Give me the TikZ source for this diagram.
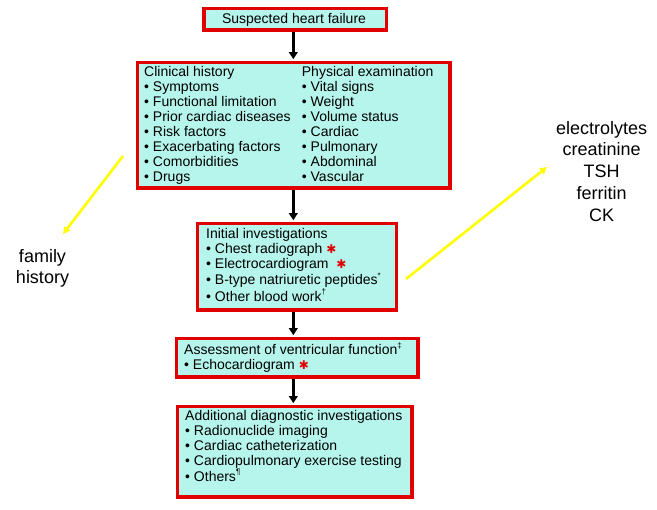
\documentclass[tikz,border=0pt]{standalone}
\usepackage{fontspec}
\setmainfont{Liberation Sans}
\newfontfamily\djv{DejaVu Sans}
\usetikzlibrary{arrows.meta}
\definecolor{boxfill}{RGB}{182,245,236}
\definecolor{boxred}{RGB}{225,0,0}
\definecolor{hlyellow}{RGB}{255,255,0}
\newcommand{\redstar}{\textcolor{boxred}{\djv\fontsize{12}{12}\selectfont ✱}}
\newcommand{\sml}[1]{\raisebox{0.9ex}{\fontsize{8}{8}\selectfont #1}}
\begin{document}
\begin{tikzpicture}[x=1pt,y=-1pt,
  box/.style={draw=boxred,fill=boxfill,line width=3.3pt,inner sep=0pt,anchor=north west},
  txt/.style={inner sep=0pt,align=left,anchor=north west,font=\fontsize{14}{15}\selectfont},
  arr/.style={line width=2.6pt,-{Triangle[length=7pt,width=8.5pt]},shorten >=1.4pt},
  yarr/.style={draw=hlyellow,line width=2.6pt,-{Triangle[length=7pt,width=7pt]}},
  side/.style={inner sep=0pt,align=center,font=\fontsize{18}{21.7}\selectfont}]
\useasboundingbox (0,0) rectangle (657,510);
% boxes
\node[box,minimum width=182.7pt,minimum height=21.8pt] (b1) at (202.3,6.6) {};
\node[box,minimum width=312.8pt,minimum height=125.8pt] (b2) at (135.6,60.6) {};
\node[box,minimum width=199.4pt,minimum height=86.8pt] (b3) at (195.6,221.6) {};
\node[box,minimum width=241.8pt,minimum height=38.8pt] (b4) at (174.6,336.6) {};
\node[box,minimum width=234.8pt,minimum height=90.8pt] (b5) at (175.6,404.6) {};
% texts
\node[inner sep=0pt,anchor=base,font=\fontsize{14}{15}\selectfont] (t1) at (294,23.3) {Suspected heart failure};
\node[txt] (t2a) at (144,66.5) {Clinical history\\• Symptoms\\• Functional limitation\\• Prior cardiac diseases\\• Risk factors\\• Exacerbating factors\\• Comorbidities\\• Drugs};
\node[txt] (t2b) at (301.7,66.5) {Physical examination\\• Vital signs\\• Weight\\• Volume status\\• Cardiac\\• Pulmonary\\• Abdominal\\• Vascular};
\node[txt] (t3) at (206,228.3) {Initial investigations\\• Chest radiograph \redstar\\• Electrocardiogram \ \redstar\\• B-type natriuretic peptides\sml{*}\\• Other blood work\sml{†}};
\node[txt] (t4) at (184,342.3) {Assessment of ventricular function\sml{‡}\\• Echocardiogram \redstar};
\node[txt] (t5) at (185,410) {Additional diagnostic investigations\\• Radionuclide imaging\\• Cardiac catheterization\\• Cardiopulmonary exercise testing\\• Others\sml{¶}};
% side notes
\node[side,anchor=north] (fam) at (42.5,249) {family\\history};
\node[side,anchor=north] (lab) at (601.7,121) {electrolytes\\creatinine\\TSH\\ferritin\\CK};
% black arrows
\coordinate (ax) at (293.3,0);
\draw[arr] (ax |- b1.south) -- (ax |- b2.north);
\draw[arr] (ax |- b2.south) -- (ax |- b3.north);
\draw[arr] (ax |- b3.south) -- (ax |- b4.north);
\draw[arr] (ax |- b4.south) -- (ax |- b5.north);
% yellow arrows
\coordinate (ys1) at (123,156);
\coordinate (ye1) at (63,234);
\coordinate (ys2) at (406,279);
\coordinate (ye2) at (547,167);
\draw[yarr] (ys1) -- (ye1);
\draw[yarr] (ys2) -- (ye2);
\end{tikzpicture}
\end{document}
